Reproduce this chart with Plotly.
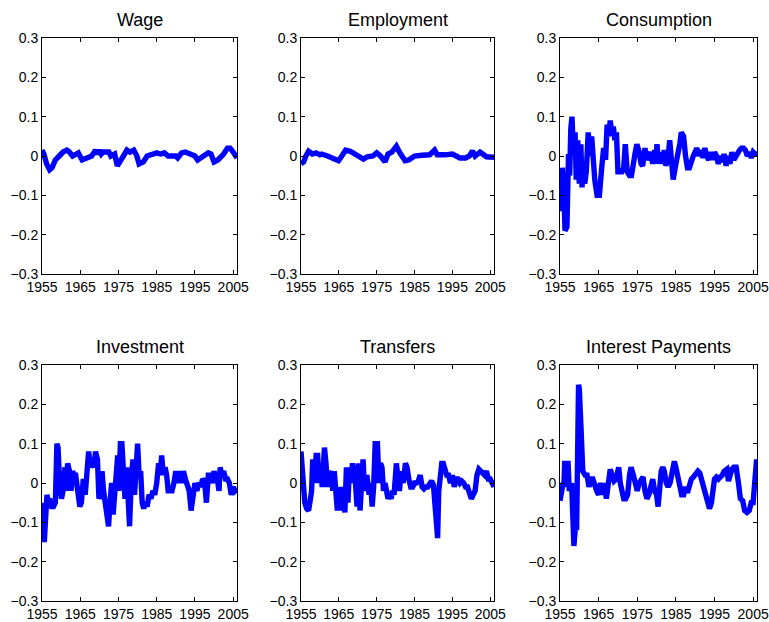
import plotly.graph_objects as go

# ---------------- data ----------------
titles = ["Wage", "Employment", "Consumption", "Investment", "Transfers", "Interest Payments"]
x_ticks = [1955, 1965, 1975, 1985, 1995, 2005]
y_ticks = [-0.3, -0.2, -0.1, 0, 0.1, 0.2, 0.3]

wage_years = [1955.0, 1955.5, 1956.2, 1957.0, 1957.6, 1958.5, 1959.5, 1960.5, 1961.5, 1962.0,
              1963.0, 1964.5, 1965.5, 1967.0, 1968.0, 1969.0, 1969.5, 1970.0, 1970.5, 1971.0,
              1972.5, 1973.0, 1974.0, 1974.7, 1975.5, 1976.3, 1977.2, 1978.0, 1979.0, 1979.8,
              1980.4, 1981.5, 1982.5, 1983.5, 1985.0, 1986.0, 1987.0, 1988.0, 1990.0, 1990.5,
              1991.5, 1992.5, 1993.5, 1995.0, 1995.7, 1997.0, 1998.5, 1999.2, 2000.0, 2001.0,
              2002.0, 2002.5, 2003.5, 2004.2, 2005.0, 2006.0]
wage = [0.015, 0.005, -0.02, -0.035, -0.03, -0.01, 0.0, 0.01, 0.015, 0.012,
        0.0, 0.008, -0.01, -0.005, 0.0, 0.015, 0.005, 0.015, 0.005, 0.01,
        0.01, 0.0, 0.005, -0.025, -0.015, 0.0, 0.015, 0.01, 0.015, 0.0,
        -0.02, -0.015, 0.0, 0.003, 0.008, 0.005, 0.008, 0.0, 0.0, -0.005,
        0.008, 0.01, 0.005, 0.0, -0.01, 0.0, 0.008, 0.005, -0.015, -0.01,
        0.0, 0.005, 0.02, 0.02, 0.01, -0.005]

employment_years = [1955.0, 1955.7, 1956.3, 1957.0, 1958.0, 1959.0, 1960.0, 1960.5, 1962.0, 1963.5,
                    1964.9, 1965.8, 1966.8, 1968.0, 1970.0, 1971.5, 1972.5, 1974.0, 1975.0, 1976.0,
                    1977.2, 1978.0, 1979.0, 1980.2, 1981.0, 1982.5, 1983.5, 1985.0, 1987.0, 1989.0,
                    1990.3, 1991.0, 1993.0, 1995.0, 1997.0, 1998.5, 1999.5, 2000.3, 2001.0, 2002.3,
                    2003.0, 2004.0, 2006.0]
employment = [-0.02, -0.015, 0.0, 0.012, 0.005, 0.008, 0.003, 0.005, 0.0, -0.005,
              -0.012, 0.0, 0.015, 0.012, 0.0, -0.008, -0.002, 0.0, 0.008, 0.0,
              -0.015, 0.005, 0.01, 0.025, 0.01, -0.012, -0.01, 0.0, 0.002, 0.003,
              0.015, 0.003, 0.003, 0.005, -0.005, -0.005, 0.0, 0.013, 0.0, 0.01,
              0.005, -0.002, -0.003]

consumption_years = [1955.0, 1955.3, 1955.6, 1956.0, 1956.3, 1956.8, 1957.2, 1957.5, 1957.8, 1958.1,
                     1958.5, 1958.9, 1959.2, 1959.6, 1960.0, 1960.4, 1960.7, 1961.0, 1961.4, 1961.8,
                     1962.3, 1962.8, 1963.2, 1963.6, 1964.0, 1964.6, 1965.2, 1965.8, 1966.3, 1966.8,
                     1967.2, 1967.6, 1968.0, 1968.4, 1968.8, 1969.2, 1969.6, 1970.0, 1970.5, 1971.0,
                     1971.5, 1971.9, 1972.4, 1973.0, 1973.5, 1974.0, 1974.5, 1974.9, 1975.5, 1976.0,
                     1976.4, 1977.0, 1977.5, 1978.0, 1978.5, 1979.0, 1979.5, 1979.8, 1980.1, 1980.5,
                     1981.0, 1981.5, 1982.0, 1982.4, 1983.0, 1983.4, 1983.9, 1984.3, 1985.0, 1985.5,
                     1986.0, 1986.4, 1987.0, 1987.5, 1988.0, 1988.5, 1989.0, 1989.5, 1990.0, 1990.4,
                     1991.0, 1991.5, 1992.0, 1992.5, 1993.0, 1993.5, 1994.0, 1994.5, 1995.0, 1995.5,
                     1996.0, 1996.5, 1997.0, 1997.5, 1998.0, 1998.5, 1999.0, 1999.5, 2000.0, 2000.5,
                     2001.0, 2001.5, 2002.0, 2002.5, 2003.0, 2003.5, 2004.0, 2004.5, 2005.0, 2005.5,
                     2006.0]
consumption = [-0.03, -0.14, -0.03, -0.09, -0.19, -0.18, 0.005, -0.05, 0.07, 0.1,
               0.0, 0.06, -0.06, 0.04, -0.07, 0.03, -0.08, -0.02, -0.07, -0.04,
               0.06, 0.0, 0.05, -0.02, -0.06, -0.1, -0.1, -0.03, 0.02, -0.01,
               0.08, 0.05, 0.09, 0.06, 0.075, 0.04, 0.06, -0.04, -0.04, -0.04,
               -0.03, 0.03, -0.04, -0.05, -0.05, -0.01, 0.01, 0.03, 0.01, -0.02,
               -0.025, 0.02, -0.01, 0.0, 0.01, -0.02, 0.015, -0.02, 0.03, -0.02,
               0.01, -0.02, 0.015, -0.025, 0.0, 0.04, -0.05, -0.06, -0.02, 0.0,
               0.03, 0.06, 0.05, 0.0, -0.03, -0.03, -0.01, 0.0, 0.01, 0.02,
               0.0, 0.015, -0.005, 0.02, 0.0, -0.01, 0.01, -0.01, 0.01, 0.0,
               -0.02, 0.0, -0.015, 0.005, -0.025, 0.0, -0.02, 0.01, -0.01, 0.0,
               0.01, 0.015, 0.02, 0.02, 0.015, 0.0, 0.01, -0.005, 0.01, 0.005,
               0.005]

investment_years = [1955.0, 1955.3, 1955.6, 1956.0, 1956.3, 1956.7, 1957.0, 1957.5, 1958.0, 1958.5,
                    1958.9, 1959.2, 1959.6, 1960.1, 1960.5, 1961.0, 1961.3, 1961.7, 1962.2, 1962.6,
                    1963.0, 1963.4, 1963.8, 1964.3, 1964.9, 1965.3, 1965.8, 1966.3, 1966.8, 1967.2,
                    1967.7, 1968.2, 1968.6, 1969.0, 1969.5, 1969.9, 1970.3, 1970.7, 1971.1, 1971.6,
                    1972.0, 1972.4, 1972.8, 1973.2, 1973.6, 1974.0, 1974.4, 1974.8, 1975.1, 1975.5,
                    1975.9, 1976.3, 1976.7, 1977.1, 1977.5, 1977.9, 1978.4, 1978.8, 1979.2, 1979.6,
                    1980.0, 1980.4, 1980.8, 1981.2, 1981.6, 1982.0, 1982.5, 1983.0, 1983.5, 1984.0,
                    1984.5, 1985.0, 1985.5, 1985.9, 1986.3, 1986.7, 1987.2, 1987.6, 1988.0, 1988.5,
                    1989.0, 1989.5, 1990.0, 1990.5, 1991.0, 1991.5, 1992.0, 1992.5, 1993.0, 1993.5,
                    1994.0, 1994.5, 1995.0, 1995.5, 1996.0, 1996.5, 1997.0, 1997.5, 1998.0, 1998.5,
                    1999.0, 1999.5, 2000.0, 2000.5, 2001.0, 2001.3, 2001.6, 2002.0, 2002.5, 2003.0,
                    2003.5, 2004.0, 2004.5, 2005.0, 2005.5, 2006.0]
investment = [-0.05, -0.15, -0.15, -0.08, -0.03, -0.05, -0.04, -0.06, -0.06, -0.05,
              0.1, 0.09, 0.0, -0.04, -0.02, 0.04, -0.02, 0.05, 0.03, -0.02,
              0.03, 0.02, 0.02, -0.03, -0.06, -0.05, 0.01, -0.03, 0.05, 0.08,
              0.04, 0.05, 0.04, 0.08, 0.06, -0.04, -0.03, 0.03, -0.02, -0.05,
              -0.07, -0.11, -0.05, 0.0, -0.08, -0.02, 0.06, 0.07, -0.02, 0.1,
              0.1, 0.02, -0.04, 0.04, -0.05, -0.11, 0.02, 0.06, -0.03, 0.08,
              0.1, 0.02, 0.03, -0.05, -0.065, -0.05, -0.06, -0.03, -0.04, -0.02,
              -0.03, 0.0, 0.05, 0.02, 0.07, 0.02, 0.04, 0.02, -0.02, -0.02,
              -0.02, 0.0, 0.03, 0.0, 0.03, 0.0, 0.03, 0.01, -0.01, -0.02,
              -0.07, -0.03, 0.0, -0.02, 0.0, -0.01, 0.01, 0.005, -0.05, 0.02,
              0.02, 0.0, 0.03, 0.01, 0.0, -0.02, 0.04, 0.02, 0.03, 0.01,
              0.01, 0.0, -0.03, -0.01, -0.02, -0.015]

transfers_years = [1955.0, 1955.5, 1956.0, 1956.5, 1957.0, 1957.5, 1957.8, 1958.1, 1958.5, 1959.0,
                   1959.4, 1959.8, 1960.2, 1960.6, 1961.2, 1961.6, 1962.0, 1962.5, 1963.0, 1963.4,
                   1963.8, 1964.2, 1964.6, 1965.0, 1965.4, 1965.8, 1966.2, 1966.6, 1967.0, 1967.4,
                   1967.8, 1968.2, 1968.6, 1969.0, 1969.4, 1969.8, 1970.2, 1970.6, 1971.0, 1971.4,
                   1971.8, 1972.4, 1973.0, 1973.4, 1973.8, 1974.2, 1974.6, 1975.2, 1975.6, 1976.0,
                   1976.4, 1976.8, 1977.2, 1977.6, 1978.0, 1978.4, 1978.8, 1979.2, 1979.6, 1980.2,
                   1980.6, 1981.0, 1981.5, 1982.0, 1982.6, 1983.0, 1983.5, 1984.0, 1984.5, 1985.0,
                   1985.5, 1986.0, 1986.5, 1987.0, 1987.5, 1988.0, 1988.5, 1989.0, 1989.5, 1990.0,
                   1990.8, 1991.1, 1991.4, 1991.8, 1992.2, 1992.6, 1993.0, 1993.5, 1994.0, 1994.5,
                   1995.0, 1995.5, 1996.0, 1996.5, 1997.0, 1997.5, 1998.0, 1998.5, 1999.0, 1999.5,
                   2000.0, 2000.5, 2001.0, 2001.5, 2002.0, 2002.5, 2003.0, 2003.5, 2004.0, 2004.5,
                   2005.0, 2005.5, 2006.0]
transfers = [0.08, 0.0, -0.05, -0.065, -0.07, -0.04, -0.02, 0.06, 0.0, 0.07,
             0.07, 0.0, 0.04, -0.01, 0.09, 0.05, -0.01, 0.02, 0.03, -0.02,
             0.03, -0.02, -0.07, -0.01, -0.07, -0.01, -0.06, -0.075, 0.04, -0.05,
             0.04, 0.0, 0.05, 0.02, 0.0, -0.06, 0.05, -0.07, 0.04, 0.06,
             -0.02, 0.02, -0.03, 0.0, -0.06, -0.01, 0.1, 0.1, 0.0, 0.05,
             0.04, -0.02, 0.0, -0.02, -0.04, -0.03, -0.04, -0.02, -0.03, 0.05,
             0.0, -0.02, 0.03, 0.0, 0.05, 0.04, 0.01, -0.01, -0.01, 0.0,
             0.0, 0.005, 0.02, -0.01, -0.015, -0.01, -0.01, 0.0, 0.005, -0.005,
             -0.14, -0.14, -0.02, 0.04, 0.05, 0.05, 0.04, 0.02, 0.02, 0.0,
             0.02, -0.01, 0.01, 0.01, 0.0, 0.005, 0.0, -0.01, -0.01, -0.03,
             -0.04, -0.03, -0.02, 0.02, 0.035, 0.03, 0.025, 0.02, 0.03, 0.01,
             0.01, 0.0, -0.01]

interest_years = [1955.0, 1955.4, 1955.8, 1956.0, 1956.2, 1957.1, 1957.4, 1958.0, 1958.4, 1958.6,
                  1959.1, 1959.3, 1959.8, 1960.0, 1960.4, 1960.9, 1961.5, 1962.0, 1962.5, 1963.0,
                  1963.5, 1964.0, 1964.5, 1965.0, 1965.5, 1966.0, 1966.5, 1967.0, 1967.5, 1968.0,
                  1968.5, 1969.0, 1969.5, 1970.2, 1970.6, 1971.0, 1971.5, 1972.0, 1972.5, 1973.0,
                  1973.4, 1974.0, 1974.5, 1975.0, 1975.5, 1976.0, 1976.5, 1977.0, 1977.5, 1978.0,
                  1978.5, 1979.0, 1979.5, 1980.0, 1980.4, 1980.8, 1981.2, 1981.6, 1982.0, 1982.5,
                  1983.0, 1983.5, 1984.0, 1984.6, 1985.0, 1985.5, 1986.0, 1986.5, 1987.0, 1987.5,
                  1988.0, 1988.5, 1989.0, 1989.5, 1990.0, 1990.7, 1991.2, 1991.6, 1992.0, 1992.5,
                  1993.0, 1993.7, 1994.2, 1994.6, 1995.0, 1995.5, 1996.0, 1996.5, 1997.0, 1997.5,
                  1998.2, 1998.6, 1999.0, 1999.5, 2000.0, 2000.6, 2001.2, 2001.7, 2002.3, 2002.8,
                  2003.4, 2004.0, 2004.5, 2005.0, 2005.4, 2005.9, 2006.0]
interest = [-0.045, -0.02, 0.0, -0.01, 0.05, 0.05, -0.02, 0.0, -0.15, -0.16,
            -0.1, -0.12, 0.25, 0.24, 0.15, 0.03, 0.02, 0.02, -0.01, 0.01,
            0.01, -0.01, -0.02, -0.03, 0.0, -0.03, 0.0, -0.04, 0.0, 0.035,
            0.02, 0.005, 0.01, 0.04, 0.0, -0.02, -0.04, -0.04, -0.03, 0.02,
            0.04, 0.02, 0.0, -0.02, 0.0, 0.01, 0.015, -0.02, -0.04, -0.03,
            -0.01, 0.01, -0.02, -0.03, -0.06, 0.02, 0.03, 0.04, 0.03, 0.0,
            -0.01, 0.0, 0.03, 0.055, 0.04, 0.01, 0.0, -0.03, -0.03, -0.01,
            -0.025, 0.0, 0.01, 0.015, 0.02, 0.03, 0.025, 0.01, -0.01, -0.03,
            -0.05, -0.065, -0.05, -0.02, 0.01, 0.015, 0.01, 0.015, 0.02, 0.03,
            0.035, 0.005, 0.02, 0.035, 0.04, 0.04, 0.0, -0.04, -0.045, -0.07,
            -0.075, -0.07, -0.05, -0.05, 0.0, 0.06, 0.05]

series = [(wage_years, wage), (employment_years, employment), (consumption_years, consumption),
          (investment_years, investment), (transfers_years, transfers), (interest_years, interest)]

# ---------------- layout ----------------
W, H = 769, 622
col_px = [(42, 237), (301, 494), (560, 757)]
row_px = [(38, 274), (365, 601)]

FONT = "Liberation Sans, Arial, Helvetica, sans-serif"
fig = go.Figure()
layout = dict(width=W, height=H, margin=dict(l=0, r=0, t=0, b=0, autoexpand=False),
              paper_bgcolor="white", plot_bgcolor="white", showlegend=False,
              font=dict(family=FONT, size=14, color="black"))
annotations = []

for i, (title, (xs, ys)) in enumerate(zip(titles, series)):
    r, c = divmod(i, 3)
    n = i + 1
    sfx = "" if n == 1 else str(n)
    xd = [col_px[c][0] / W, col_px[c][1] / W]
    yd = [1 - row_px[r][1] / H, 1 - row_px[r][0] / H]
    m = min(len(xs), len(ys))
    fig.add_trace(go.Scatter(x=xs[:m], y=ys[:m], mode="lines",
                             line=dict(color="#0000FF", width=5.4),
                             xaxis="x" + sfx, yaxis="y" + sfx, hoverinfo="skip"))
    common = dict(showline=True, linecolor="black", linewidth=1, mirror="ticks",
                  ticks="inside", ticklen=4, tickcolor="black", showgrid=False,
                  zeroline=False, automargin=False,
                  tickfont=dict(family=FONT, size=14, color="black"))
    layout["xaxis" + sfx] = dict(domain=xd, range=[1955, 2006], tickvals=x_ticks,
                                 ticktext=[str(t) for t in x_ticks],
                                 anchor="y" + sfx, **common)
    layout["yaxis" + sfx] = dict(domain=yd, range=[-0.3, 0.3], tickvals=y_ticks,
                                 ticktext=["\u22120.3", "\u22120.2", "\u22120.1", "0", "0.1", "0.2", "0.3"],
                                 anchor="x" + sfx, **common)
    annotations.append(dict(text=title, x=(xd[0] + xd[1]) / 2, y=yd[1], xref="paper", yref="paper",
                            xanchor="center", yanchor="bottom", yshift=6, showarrow=False,
                            font=dict(family=FONT, size=18, color="black")))

layout["annotations"] = annotations
fig.update_layout(**layout)
fig.write_html("out.html", config={"displayModeBar": False},
               post_script="document.body.style.margin='0';document.body.style.overflow='hidden';")
